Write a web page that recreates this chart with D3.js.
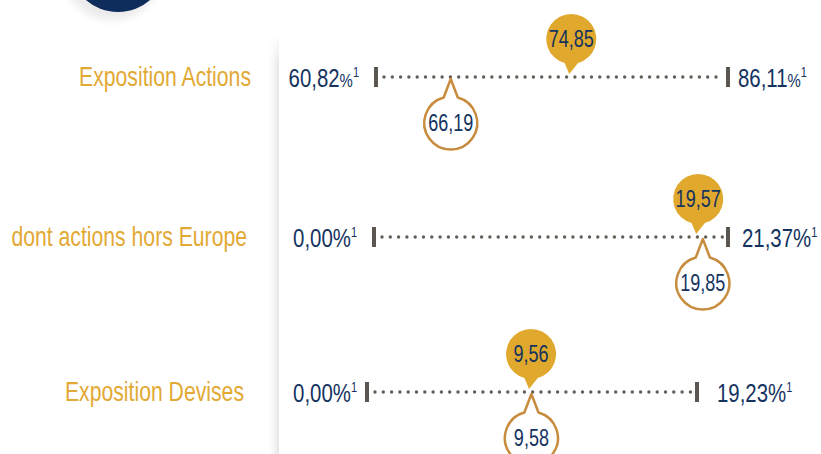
<!DOCTYPE html>
<html>
<head>
<meta charset="utf-8">
<script src="https://cdn.jsdelivr.net/npm/d3@7"></script>
<style>
  body { margin: 0; background: #fff; }
  svg { display: block; }
  text { font-family: "Liberation Sans", Arial, sans-serif; }
</style>
</head>
<body>
<svg id="chart" width="821" height="454"></svg>
<script>
//////////////////// DATA ////////////////////
const categories = ["Exposition Actions", "dont actions hors Europe", "Exposition Devises"];
const minValues = [60.82, 0.00, 0.00];
const maxValues = [86.11, 21.37, 19.23];
const filledValues = [74.85, 19.57, 9.56];   // yellow bubble, above the line
const outlineValues = [66.19, 19.85, 9.58];  // outlined bubble, below the line
const smallPercent = [true, false, false];   // first row uses a smaller % sign

//////////////////// LAYOUT ////////////////////
const rowY = [77, 237, 392];
const rowRanges = [[376, 728], [374, 728], [367, 697]];
const labelEnd = [251, 247, 244];
const minLabelEnd = [359, 357, 357];
const maxLabelGap = [10, 14, 20];
const narrow = 0.785; // horizontal squeeze to mimic a narrow font
const colors = {
    gold: "#E2A934",
    bubble: "#E0A92D",
    outline: "#C88C3F",
    navy: "#14335F",
    tick: "#5B5750",
    dots: "#625D55"
};

const svg = d3.select("#chart");
const locale = d3.formatLocale({ decimal: ",", thousands: " ", grouping: [3], currency: ["", "€"] });
const fmt = locale.format(".2f");

// narrow text helper
function narrowText(parent, x, y, size, anchor, color) {
    return parent.append("text")
        .attr("transform", `translate(${x},${y}) scale(${narrow},1)`)
        .attr("text-anchor", anchor)
        .attr("font-size", size)
        .attr("fill", color);
}

//////////////////// BACKGROUND ////////////////////
const defs = svg.append("defs");
const grad = defs.append("linearGradient").attr("id", "panelShadow");
grad.append("stop").attr("offset", "0%").attr("stop-color", "#fff").attr("stop-opacity", 0);
grad.append("stop").attr("offset", "100%").attr("stop-color", "#e4e4e4");
const vgrad = defs.append("linearGradient").attr("id", "panelFade")
    .attr("x1", 0).attr("y1", 0).attr("x2", 0).attr("y2", 1);
vgrad.append("stop").attr("offset", "0%").attr("stop-color", "#fff").attr("stop-opacity", 1);
vgrad.append("stop").attr("offset", "100%").attr("stop-color", "#fff").attr("stop-opacity", 0);

svg.append("rect").attr("x", 266).attr("y", 35).attr("width", 13).attr("height", 419)
    .attr("fill", "url(#panelShadow)");
svg.append("rect").attr("x", 264).attr("y", 35).attr("width", 16).attr("height", 30)
    .attr("fill", "url(#panelFade)");

const blur = defs.append("filter").attr("id", "blur");
blur.append("feGaussianBlur").attr("stdDeviation", 4);
svg.append("circle").attr("cx", 112).attr("cy", -30).attr("r", 50)
    .attr("fill", "#000").attr("opacity", 0.08).attr("filter", "url(#blur)");
svg.append("circle").attr("cx", 118).attr("cy", -37).attr("r", 49).attr("fill", "#0F2D5C");

//////////////////// BUBBLE PATHS ////////////////////
// circle with a pointer; dir = 1 points down to the tip, -1 points up
function bubblePath(cx, cy, r, tx, ty, dir) {
    const th = 0.27;
    const s = r * Math.sin(th), c = r * Math.cos(th) * dir;
    const a = [cx + s, cy + c], b = [cx - s, cy + c];
    if (dir > 0) {
        return `M${a[0]},${a[1]} L${tx},${ty} L${b[0]},${b[1]} A${r},${r} 0 1 1 ${a[0]},${a[1]} Z`;
    }
    return `M${b[0]},${b[1]} L${tx},${ty} L${a[0]},${a[1]} A${r},${r} 0 1 1 ${b[0]},${b[1]} Z`;
}

//////////////////// ROWS ////////////////////
categories.forEach((cat, i) => {
    const y = rowY[i];
    const x = d3.scaleLinear().domain([minValues[i], maxValues[i]]).range(rowRanges[i]);
    const g = svg.append("g");

    // category label
    narrowText(g, labelEnd[i], y + 9, 27, "end", colors.gold).text(cat);

    // dotted line
    g.append("line")
        .attr("x1", x(minValues[i]) + 8).attr("x2", x(maxValues[i]) - 4)
        .attr("y1", y).attr("y2", y)
        .attr("stroke", colors.dots)
        .attr("stroke-width", 3.4)
        .attr("stroke-linecap", "round")
        .attr("stroke-dasharray", "0 8.3");

    // end ticks
    [minValues[i], maxValues[i]].forEach(v => {
        g.append("rect")
            .attr("x", x(v) - 2).attr("y", y - 10)
            .attr("width", 4).attr("height", 20)
            .attr("fill", colors.tick);
    });

    // min / max labels
    const addLabel = (v, xPos, anchor) => {
        const t = narrowText(g, xPos, y + 10, 26, anchor, colors.navy);
        t.append("tspan").text(fmt(v));
        t.append("tspan").attr("font-size", smallPercent[i] ? 19 : 26).text("%");
        t.append("tspan").attr("font-size", 14).attr("dy", -10).text("1");
    };
    addLabel(minValues[i], minLabelEnd[i], "end");
    addLabel(maxValues[i], x(maxValues[i]) + maxLabelGap[i], "start");

    // filled bubble (above)
    const fx = x(filledValues[i]);
    g.append("path")
        .attr("d", bubblePath(fx, y - 38, 25, fx - 2, y - 3, 1))
        .attr("fill", colors.bubble);
    narrowText(g, fx, y - 30, 23, "middle", colors.navy).text(fmt(filledValues[i]));

    // outlined bubble (below)
    const ox = x(outlineValues[i]);
    g.append("path")
        .attr("d", bubblePath(ox, y + 46, 26.5, ox, y + 2, -1))
        .attr("fill", "#fff")
        .attr("stroke", colors.outline)
        .attr("stroke-width", 2.5)
        .attr("stroke-linejoin", "round");
    narrowText(g, ox, y + 54, 23, "middle", colors.navy).text(fmt(outlineValues[i]));
});
</script>
</body>
</html>
